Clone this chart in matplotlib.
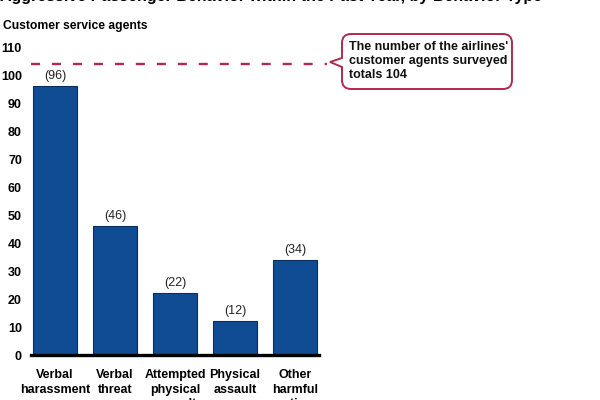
import matplotlib
matplotlib.use("Agg")
import matplotlib.pyplot as plt
from matplotlib.path import Path
from matplotlib.patches import PathPatch
from matplotlib.transforms import Affine2D

plt.rcParams['font.family'] = ['Liberation Sans', 'DejaVu Sans']
plt.rcParams['lines.scale_dashes'] = False

categories = ["Verbal\nharassment", "Verbal\nthreat", "Attempted\nphysical\nassault",
              "Physical\nassault", "Other\nharmful\naction"]
values = [96, 46, 22, 12, 34]
value_labels = ["(96)", "(46)", "(22)", "(12)", "(34)"]
yticks = [0, 10, 20, 30, 40, 50, 60, 70, 80, 90, 100, 110]
total_surveyed = 104
title = "Aggressive Passenger Behavior within the Past Year, by Behavior Type"
ylabel = "Customer service agents"
callout = "The number of the airlines'\ncustomer agents surveyed\ntotals 104"

W, H = 600, 400
fig = plt.figure(figsize=(6, 4), dpi=100)
fig.patch.set_facecolor('white')

def fx(px):
    return px / W

def fy(py):
    return 1 - py / H

ax = fig.add_axes([fx(31), fy(355), fx(319) - fx(31), fy(47) - fy(355)])
x = list(range(len(categories)))
ax.bar(x, values, width=0.74, color='#0f4c93', edgecolor='#0a2e5e', linewidth=0.8, zorder=2)
ax.set_xlim(-0.4, 4.4)
ax.set_ylim(0, 110)
for s in ['top', 'right', 'left']:
    ax.spines[s].set_visible(False)
ax.spines['bottom'].set_linewidth(2.4)
ax.spines['bottom'].set_color('black')
ax.spines['bottom'].set_zorder(3)
ax.set_yticks(yticks)
ax.set_yticklabels([str(t) for t in yticks], fontsize=9, fontweight='bold')
ax.tick_params(axis='y', length=0, pad=6.5)
ax.set_xticks(x)
ax.set_xticklabels(categories, fontsize=9, fontweight='bold', linespacing=1.3)
ax.tick_params(axis='x', length=0, pad=10)

for xi, v, lab in zip(x, values, value_labels):
    ax.annotate(lab, (xi, v), xytext=(0, 3), textcoords='offset points',
                ha='center', va='bottom', fontsize=9, color='#222222')

# dashed reference line
ax.plot([-0.4, 4.53], [total_surveyed, total_surveyed], color='#b02a4e', linewidth=1.7,
        dashes=(6.5, 8.6), clip_on=False, zorder=3)

# callout bubble in pixel coordinates
x0, x1, y0, y1, r = 342, 512, 34, 89, 9
verts = [
    (x0 + r, y0), (x1 - r, y0), (x1, y0), (x1, y0 + r),
    (x1, y1 - r), (x1, y1), (x1 - r, y1),
    (x0 + r, y1), (x0, y1), (x0, y1 - r),
    (x0, 67), (330, 62), (x0, 58),
    (x0, y0 + r), (x0, y0), (x0 + r, y0),
]
codes = [
    Path.MOVETO, Path.LINETO, Path.CURVE3, Path.CURVE3,
    Path.LINETO, Path.CURVE3, Path.CURVE3,
    Path.LINETO, Path.CURVE3, Path.CURVE3,
    Path.LINETO, Path.LINETO, Path.LINETO,
    Path.LINETO, Path.CURVE3, Path.CURVE3,
]
tr = Affine2D().scale(1 / W, -1 / H).translate(0, 1) + fig.transFigure
patch = PathPatch(Path(verts, codes), facecolor='white', edgecolor='#b02a4e',
                  linewidth=1.4, transform=tr)
fig.add_artist(patch)
fig.text(fx(349), fy(40.5), callout, fontsize=9, fontweight='bold', ha='left', va='top',
         linespacing=1.25, color='#111111')

fig.text(fx(3), fy(26.5), ylabel, fontsize=8.7, fontweight='bold', ha='left', va='center')
fig.text(fx(0), fy(1), title, fontsize=11.5, fontweight='bold', ha='left', va='baseline')

fig.savefig('out.png', dpi=100, facecolor='white')
